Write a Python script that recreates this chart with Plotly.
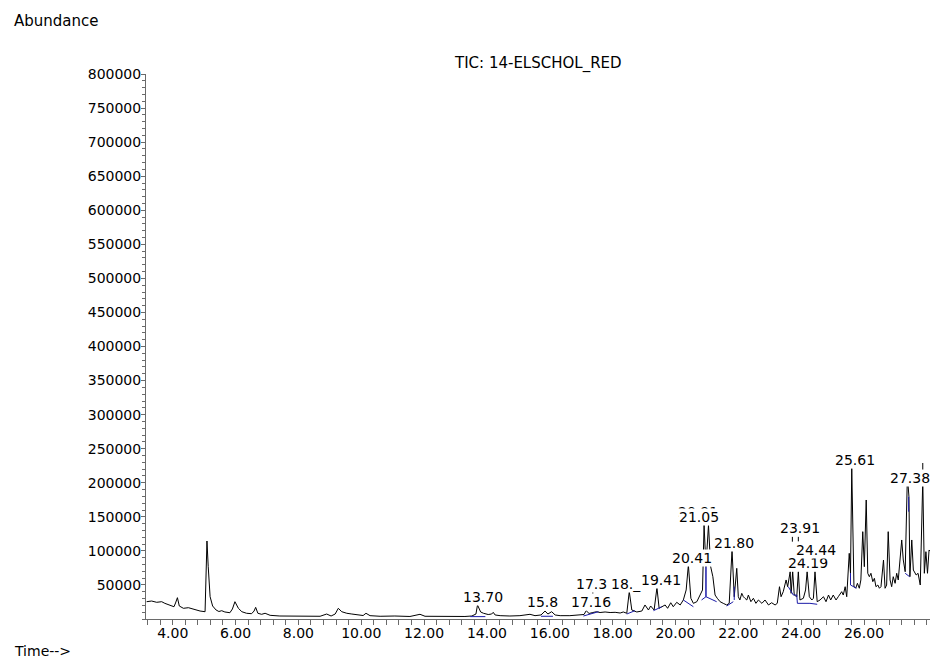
import plotly.graph_objects as go

# ---------------- data ----------------
rt = [3.17, 3.33, 3.49, 3.65, 3.75, 3.91, 4.04, 4.09, 4.15, 4.21, 4.34, 4.50, 4.66, 4.87, 5.03,
      5.06, 5.09, 5.13, 5.19, 5.27, 5.38, 5.47, 5.56, 5.66, 5.82, 5.90, 5.98, 6.09, 6.20, 6.35,
      6.51, 6.59, 6.64, 6.71, 6.83, 6.94, 7.10, 7.41, 7.89, 8.37, 8.69, 8.90, 9.04, 9.17, 9.27,
      9.38, 9.54, 9.70, 9.86, 10.06, 10.15, 10.28, 10.60, 11.07, 11.55, 11.87, 12.03, 12.51, 12.98,
      13.30, 13.52, 13.65, 13.70, 13.80, 13.89, 14.04, 14.15, 14.20, 14.26, 14.42, 14.73, 15.05,
      15.37, 15.53, 15.72, 15.85, 15.94, 16.06, 16.17, 16.33, 16.64, 16.96, 17.09, 17.16, 17.25,
      17.37, 17.49, 17.60, 17.76, 17.92, 18.08, 18.24, 18.34, 18.45, 18.53, 18.61, 18.77, 18.93,
      19.03, 19.14, 19.21, 19.32, 19.41, 19.48, 19.56, 19.67, 19.75, 19.85, 19.93, 20.04, 20.15,
      20.25, 20.34, 20.41, 20.49, 20.57, 20.68, 20.73, 20.80, 20.86, 20.91, 20.97, 21.05, 21.12,
      21.19, 21.26, 21.33, 21.42, 21.52, 21.63, 21.71, 21.80, 21.87, 21.95, 22.00, 22.05, 22.11,
      22.16, 22.21, 22.27, 22.32, 22.40, 22.48, 22.56, 22.64, 22.75, 22.85, 22.96, 23.06, 23.17,
      23.24, 23.31, 23.36, 23.43, 23.52, 23.57, 23.65, 23.68, 23.73, 23.78, 23.86, 23.91, 23.96,
      24.07, 24.14, 24.19, 24.26, 24.34, 24.39, 24.44, 24.51, 24.60, 24.71, 24.79, 24.87, 24.94,
      25.02, 25.11, 25.18, 25.29, 25.34, 25.40, 25.45, 25.53, 25.57, 25.61, 25.68, 25.74, 25.79,
      25.85, 25.90, 25.96, 26.01, 26.07, 26.12, 26.17, 26.22, 26.28, 26.33, 26.38, 26.44, 26.49,
      26.54, 26.62, 26.67, 26.72, 26.77, 26.83, 26.88, 26.93, 26.99, 27.04, 27.09, 27.15, 27.20,
      27.25, 27.31, 27.38, 27.43, 27.46, 27.52, 27.57, 27.66, 27.72, 27.79, 27.87, 27.92, 27.97,
      28.02, 28.07, 28.12]
abundance = [25400, 26400, 24500, 25400, 23000, 20100, 18000, 23500, 31300, 19100, 15700, 16600,
             14200, 11700, 10700, 60000, 114500, 76800, 32700, 19100, 13200, 11000, 12200, 10300,
             9200, 14700, 25400, 15700, 10700, 8400, 7800, 11700, 17100, 8400, 6900, 8400, 5400,
             4400, 4000, 4400, 4000, 7300, 4400, 7300, 15700, 10700, 8400, 7300, 5900, 5100, 8400,
             4900, 4000, 4400, 3700, 6900, 4000, 3700, 4000, 3700, 4400, 7300, 20600, 10300, 8400,
             6600, 7300, 9800, 5900, 4900, 4400, 4900, 6900, 4900, 5900, 11700, 7300, 10700, 5900,
             4900, 4900, 5400, 6600, 12200, 8100, 9500, 10700, 9500, 10300, 9500, 9800, 8800,
             10300, 8400, 40400, 13200, 10300, 11700, 20600, 13200, 19100, 13200, 45900, 15700,
             18000, 20600, 15700, 23900, 18000, 24500, 20600, 27900, 42600, 79300, 30400, 23000,
             25400, 30400, 35200, 42600, 138000, 76800, 138000, 76800, 62100, 35200, 30400, 25400,
             23000, 20600, 23000, 101300, 32700, 74400, 32700, 27900, 37700, 32700, 30400, 27900,
             35200, 25400, 30400, 23000, 27900, 23000, 27900, 20600, 23900, 20600, 23000, 47400,
             32700, 40100, 57300, 47400, 69400, 37700, 69400, 35200, 32700, 69400, 27900, 30400,
             42600, 69400, 32700, 27900, 30400, 69400, 25400, 27900, 32700, 25400, 35200, 27900,
             35200, 27900, 32700, 40100, 35200, 47400, 32700, 96400, 67500, 221200, 47400, 45500,
             52400, 45100, 57300, 128200, 76800, 174700, 67100, 62100, 67100, 54800, 59700, 47400,
             49900, 45100, 47400, 86600, 45100, 49900, 128200, 57300, 47400, 62100, 52400, 67100,
             57300, 91500, 116000, 86600, 69400, 209900, 179600, 62100, 116000, 71900, 64600,
             67100, 49900, 204000, 67100, 98800, 67100, 101300, 98800]

# integration baselines (blue)
base_rt = [13.47, 13.95, None, 15.72, 16.10, None, 17.07, 17.55, None, 18.45, 18.71, None,
           19.30, 19.56, None, 20.25, 20.57, None, 20.83, 20.97, 20.97, 20.97, 21.31, None,
           21.63, 21.84, None, 21.87, 21.87, None, 23.59, 23.75, 23.86, 23.88, 24.28, 24.51, None,
           25.57, 25.57, 25.76, None, 27.42, 27.42, None, 27.31, 27.45]
base_ab = [3500, 3500, None, 4000, 4000, None, 4400, 10700, None, 7300, 12200, None,
           12200, 18000, None, 27900, 18000, None, 27900, 32700, 76800, 32700, 25400, None,
           19100, 25400, None, 27900, 47400, None, 47400, 35200, 35200, 23000, 23000, 21600, None,
           67500, 49900, 45100, None, 179600, 157500, None, 67100, 62100]

# peak label leader marks
mark_rt = [17.37, 17.37, None, 23.72, 23.72, None, 23.91, 23.91, None, 27.87, 27.87]
mark_ab = [35700, 40600, None, 113500, 120800, None, 113500, 120800, None, 218700, 229000]

# peak labels as printed (partly overprinted in the original): text, centre rt, centre abundance
label_text = ["13.70", "15.8", "17.16", "17.3", "18._", "19.41", "20.41", "20.91", "21.05",
              "21.80", "23.91", "24.19", "24.44", "25.61", "27.38"]
label_rt = [13.88, 15.76, 17.31, 17.32, 18.43, 19.54, 20.52, 20.72, 20.76,
            21.87, 23.96, 24.23, 24.48, 25.70, 27.47]
label_ab = [31600, 24700, 24700, 51400, 51400, 57300, 89100, 157500, 149000,
            112300, 133600, 81800, 101300, 232700, 207700]

x_tick_vals = [4, 6, 8, 10, 12, 14, 16, 18, 20, 22, 24, 26]
x_tick_text = ["4.00", "6.00", "8.00", "10.00", "12.00", "14.00", "16.00", "18.00",
               "20.00", "22.00", "24.00", "26.00"]
y_tick_vals = list(range(50000, 800001, 50000))
y_tick_text = [str(v) for v in y_tick_vals]

FONT = "DejaVu Sans, Liberation Sans, Arial"
AX = "#6a6a6a"

fig = go.Figure()
fig.add_trace(go.Scatter(x=rt, y=abundance, mode="lines",
                         line=dict(color="black", width=1), hoverinfo="skip"))
fig.add_trace(go.Scatter(x=base_rt, y=base_ab, mode="lines",
                         line=dict(color="#1b1ba8", width=1), hoverinfo="skip"))
fig.add_trace(go.Scatter(x=mark_rt, y=mark_ab, mode="lines",
                         line=dict(color="black", width=1), hoverinfo="skip"))

annotations = []
for t, x, y in zip(label_text, label_rt, label_ab):
    annotations.append(dict(x=x, y=y, xref="x", yref="y", text=t, showarrow=False,
                            xanchor="center", yanchor="middle", bgcolor="white",
                            borderpad=0, font=dict(family=FONT, size=14, color="black")))
annotations.append(dict(x=0.5, y=1, xref="paper", yref="paper", text="TIC: 14-ELSCHOL_RED",
                        showarrow=False, xanchor="center", yanchor="bottom", yshift=-1,
                        font=dict(family=FONT, size=15, color="black")))
annotations.append(dict(x=-0.171, y=1.097, xref="paper", yref="paper", text="Abundance",
                        showarrow=False, xanchor="left", yanchor="middle",
                        font=dict(family=FONT, size=15, color="black")))
annotations.append(dict(x=-0.171, y=-0.058, xref="paper", yref="paper", text="Time-->",
                        showarrow=False, xanchor="left", yanchor="middle",
                        font=dict(family=FONT, size=14, color="black")))

fig.update_layout(
    width=933, height=659,
    margin=dict(l=146, r=3, t=74, b=40),
    paper_bgcolor="white", plot_bgcolor="white",
    showlegend=False,
    annotations=annotations,
    xaxis=dict(range=[3.15, 28.1], showgrid=False, zeroline=False,
               showline=True, linecolor=AX, linewidth=1,
               tickmode="array", tickvals=x_tick_vals, ticktext=x_tick_text,
               ticks="outside", ticklen=5, tickcolor=AX, tickwidth=1,
               minor=dict(dtick=0.4, tick0=0, ticks="outside", ticklen=5,
                          tickcolor=AX, showgrid=False),
               ticklabelstandoff=-4,
               tickfont=dict(family=FONT, size=14, color="black")),
    yaxis=dict(range=[0, 800000], showgrid=False, zeroline=False,
               showline=True, linecolor=AX, linewidth=1,
               tickmode="array", tickvals=y_tick_vals, ticktext=y_tick_text,
               ticks="outside", ticklen=4, tickcolor=AX, tickwidth=1,
               minor=dict(dtick=10000, tick0=0, ticks="outside", ticklen=3,
                          tickcolor=AX, showgrid=False),
               ticklabelstandoff=-3,
               tickfont=dict(family=FONT, size=14, color="black")),
)

# remove the browser's default page margin so the 933x659 figure fills the window exactly
fig.write_html("out.html", config={"displayModeBar": False},
               post_script="document.body.style.margin='0';document.body.style.overflow='hidden';")
